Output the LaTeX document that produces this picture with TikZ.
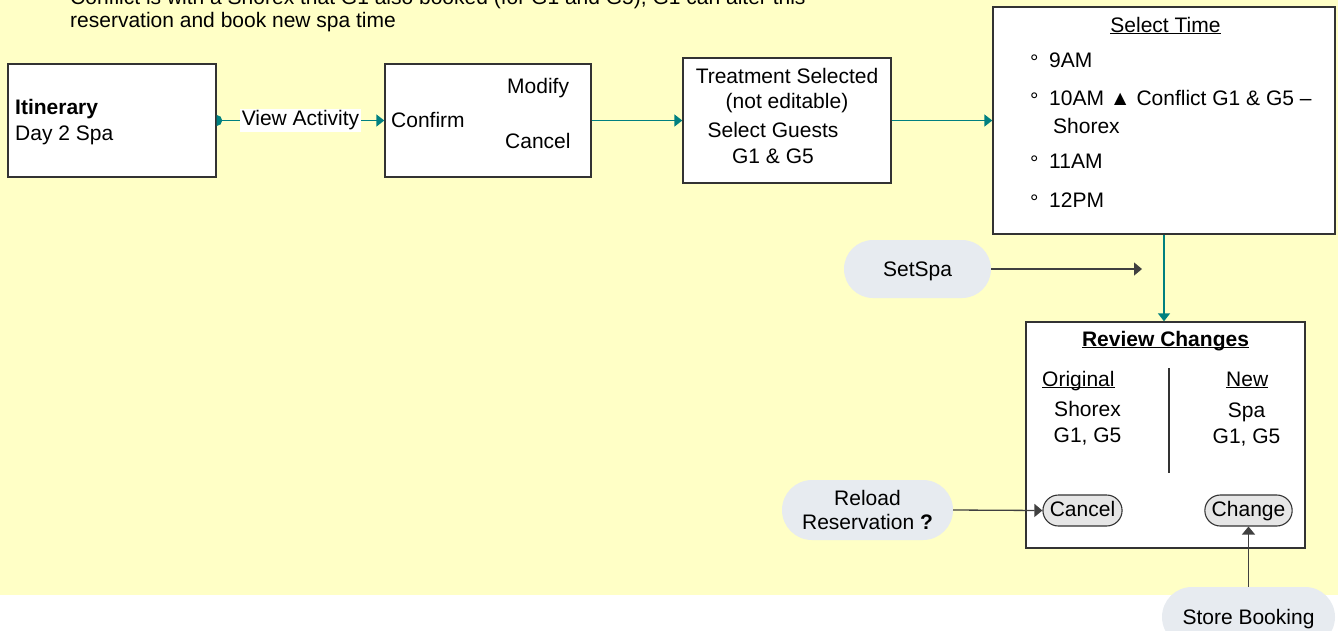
\documentclass[tikz,border=0pt]{standalone}
\usepackage{fontspec}
\setmainfont{Liberation Sans}
\usetikzlibrary{arrows.meta,shapes.misc}

\definecolor{flowteal}{RGB}{0,128,128}
\definecolor{noteyellow}{RGB}{255,255,198}
\definecolor{pillgray}{RGB}{231,235,240}
\definecolor{btngray}{RGB}{230,230,230}
\definecolor{linkgray}{RGB}{64,64,64}

\newcommand{\uln}[1]{\underline{\smash{#1}}}

\tikzset{
  screen/.style={draw=black!80, fill=white, line width=1.4pt, inner sep=0pt},
  pill/.style={rounded rectangle, fill=pillgray, inner sep=0pt, align=center},
  button/.style={rounded rectangle, draw=black!80, fill=btngray, line width=1.1pt,
    inner xsep=4pt, inner ysep=0pt, minimum height=31pt, text height=15pt, text depth=3pt},
  flow/.style={flowteal, line width=1.6pt, -{Triangle[length=8pt,width=12pt]}},
  link/.style={linkgray, line width=1.3pt, -{Triangle[length=8pt,width=13pt]}},
  txt/.style={anchor=base west, inner sep=0pt},
  ctxt/.style={anchor=base, inner sep=0pt},
}

\begin{document}
\fontsize{21}{24}\selectfont
\begin{tikzpicture}[x=1pt, y=-1pt]
        \useasboundingbox (0,0) rectangle (1338,630);
        \clip (0,0) rectangle (1338,630);
        \fill[noteyellow] (0,0) rectangle (1338,595);

        % note at the top
        \node[txt] (note1) at (70,4) {Conflict is with a Shorex that G1 also booked (for G1 and G5), G1 can alter this};
        \node[txt] (note2) at (70,27) {reservation and book new spa time};

        % screens
        \node[screen, minimum width=208pt, minimum height=113pt] (itin) at (112,120.5) {};
        \node[screen, minimum width=206pt, minimum height=113pt] (confirm) at (488,120.5) {};
        \node[screen, minimum width=208pt, minimum height=125pt] (treat) at (787,120.5) {};
        \node[screen, minimum width=342pt, minimum height=227pt] (seltime) at (1164,120.5) {};
        \node[screen, minimum width=279pt, minimum height=226pt] (review) at (1165.5,435) {};

        \node[txt, font=\bfseries] (itinhead) at (15,114) {Itinerary};
        \node[txt] (itinday) at (15,140) {Day 2 Spa};

        \node[txt] (confirmlbl) at (391,127) {Confirm};
        \node[txt] (modifylbl) at (507,93) {Modify};
        \node[txt] (cancellbl) at (505,148) {Cancel};

        \node[ctxt] (treat1) at (787,83) {Treatment Selected};
        \node[ctxt] (treat2) at (787,108) {(not editable)};
        \node[ctxt] (guests1) at (773,137) {Select Guests};
        \node[ctxt] (guests2) at (773,163) {G1 \& G5};

        \node[ctxt] (timehead) at (1165.5,32) {\uln{Select Time}};
        \foreach \t/\y in {9AM/67, 10AM ▲ Conflict G1 \& G5 –/105, 11AM/168, 12PM/207} {
            \node[txt] at (1030,\y+2) {°};
            \node[txt] at (1049,\y) {\t};
        }
        \node[txt] (shorexlbl) at (1053,133) {Shorex};

        \node[ctxt, font=\bfseries] (reviewhead) at (1165.5,346) {\uln{Review Changes}};
        \node[txt] (orighead) at (1042,386) {\uln{Original}};
        \node[ctxt] (orig1) at (1087.5,416) {Shorex};
        \node[ctxt] (orig2) at (1087.5,442) {G1, G5};
        \node[txt] (newhead) at (1226,386) {\uln{New}};
        \node[ctxt] (new1) at (1246.5,417) {Spa};
        \node[ctxt] (new2) at (1246.5,443) {G1, G5};
        \draw[black!80, line width=1.1pt] (1169,368) -- (1169,473);

        \node[button] (cancel) at (1082.5,510.5) {Cancel};
        \node[button] (change) at (1248.5,510.5) {Change};

        % actions
        \node[pill, minimum width=147pt, minimum height=58pt, text height=15pt, text depth=0pt] (setspa) at (917.5,269) {SetSpa};
        \node[pill, minimum width=171pt, minimum height=60pt] (reload) at (867.5,510) {Reload\\Reservation \textbf{?}};
        \node[pill, minimum width=173pt, minimum height=60pt, text height=15pt, text depth=0pt] (store) at (1248.5,617) {Store Booking};
        \coordinate (spaend) at (1142,269);

        % flow
        \draw[flow] (itin.east) -- node[fill=white, text=black, inner sep=2pt] (viewlbl) {View Activity} (confirm.west);
        \begin{scope}
            \clip (itin.north east) rectangle (confirm.south west);
            \fill[flowteal] (itin.east) circle (5.5pt);
        \end{scope}
        \draw[flow] (confirm.east) -- (treat.west);
        \draw[flow] (treat.east) -- (seltime.west);
        \draw[flow] (seltime.south) -- (seltime.south |- review.north);

        \draw[link] (setspa.east) -- (spaend);
        \draw[link] (reload.east) -- (cancel.west);
        \draw[link] (store.north) -- (change.south);
    \end{tikzpicture}
\end{document}
